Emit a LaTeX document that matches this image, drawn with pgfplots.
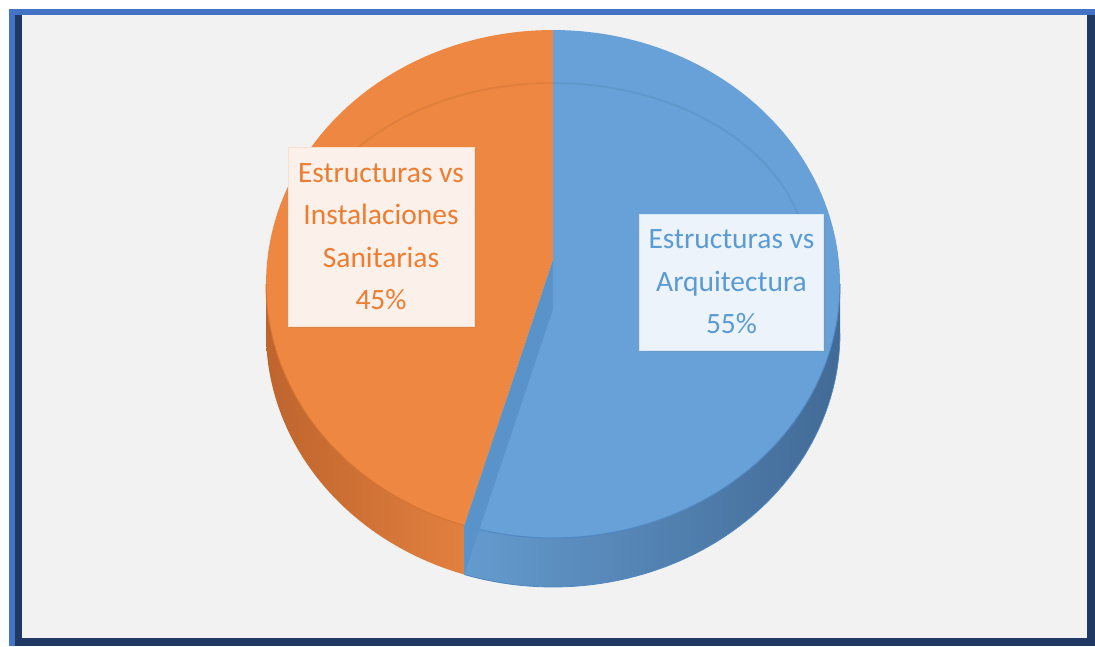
\documentclass[border=0pt]{standalone}
\usepackage{pgfplots}
\pgfplotsset{compat=1.18}
\usepackage{fontspec}
\setmainfont{Carlito}
\usetikzlibrary{shadows}

\definecolor{frameLight}{RGB}{68,114,196}
\definecolor{frameNavy}{RGB}{31,56,100}
\definecolor{bgGray}{RGB}{242,242,242}
\definecolor{pieBlue}{RGB}{103,161,215}
\definecolor{pieOrange}{RGB}{237,135,65}
\definecolor{edgeBlue}{RGB}{80,135,195}
\definecolor{edgeOrange}{RGB}{215,115,50}
\definecolor{wallBlue}{RGB}{90,147,202}
\definecolor{sideBlueL}{RGB}{100,155,206}
\definecolor{sideBlueM}{RGB}{94,149,199}
\definecolor{sideBlueR}{RGB}{66,106,150}
\definecolor{sideOrangeL}{RGB}{190,100,45}
\definecolor{sideOrangeM}{RGB}{220,123,60}
\definecolor{sideOrangeR}{RGB}{226,128,63}
\definecolor{boxOrange}{RGB}{252,240,234}
\definecolor{txtOrange}{RGB}{237,125,49}
\definecolor{boxBlue}{RGB}{237,243,250}
\definecolor{txtBlue}{RGB}{91,155,213}

% data (percent)
\def\valA{55}% Estructuras vs Arquitectura
\def\valB{45}% Estructuras vs Instalaciones Sanitarias
\pgfmathsetmacro{\angA}{3.6*\valA}
\pgfmathsetmacro{\angB}{\angA+3.6*\valB}
% geometry (pt = px)
\def\cx{553}\def\cy{362}\def\rx{287}\def\ry{254}\def\ax{553}\def\ay{386}\def\dep{49}
\pgfmathsetmacro{\rimx}{\cx+\rx*sin(\angA)}
\pgfmathsetmacro{\rimy}{\cy+\ry*cos(\angA)}
\pgfmathsetmacro{\rimyb}{\rimy-\dep}
\pgfmathsetmacro{\ayb}{\ay-\dep}

\begin{document}
\begin{tikzpicture}[
  lbl/.style={font=\fontsize{29.5}{42.5}\selectfont, align=center, inner sep=0pt,
    drop shadow={opacity=0.18, shadow xshift=2pt, shadow yshift=-2pt}},
]
\begin{axis}[
  width=1095pt, height=646pt, scale only axis,
  xmin=0, xmax=1095, ymin=0, ymax=646,
  hide axis, clip=false,
  declare function={
    bang(\t,\a,\b)=(\t<150)*(\a+(\b-\a)*\t/100)+(\t>=150)*(\b-(\b-\a)*(\t-200)/100);
    boff(\t)=(\t>=150)*49;
  },
]
% frame
\fill[white] (axis cs:0,0) rectangle (axis cs:1095,646);
\fill[frameLight] (axis cs:9,0) rectangle (axis cs:1095,637);
\fill[frameNavy] (axis cs:15,0) rectangle (axis cs:1095,631);
\fill[bgGray] (axis cs:22,8) rectangle (axis cs:1087,631);

% side bands
\addplot[draw=none, left color=sideBlueL, middle color=sideBlueM, right color=sideBlueR,
  samples at={0,2,...,100,200,202,...,300}]
  ({\cx+\rx*sin(bang(x,90,\angA))},{\cy+\ry*cos(bang(x,90,\angA))-boff(x)});
\addplot[draw=none, left color=sideOrangeL, middle color=sideOrangeM, right color=sideOrangeR,
  samples at={0,2,...,100,200,202,...,300}]
  ({\cx+\rx*sin(bang(x,\angA,270))},{\cy+\ry*cos(bang(x,\angA,270))-boff(x)});
\addplot[draw=edgeBlue, line width=0.8pt, domain=90:\angA, samples=60]
  ({\cx+\rx*sin(x)},{\cy+\ry*cos(x)-\dep});

% top faces
\addplot[fill=pieBlue, draw=none, domain=0:\angA, samples=120]
  ({\cx+\rx*sin(x)},{\cy+\ry*cos(x)}) -- (axis cs:\ax,\ay) -- cycle;
\addplot[fill=pieOrange, draw=none, domain=\angA:\angB, samples=100]
  ({\cx+\rx*sin(x)},{\cy+\ry*cos(x)}) -- (axis cs:\ax,\ay) -- cycle;

% bevel ring
\addplot[draw=black, opacity=0.05, line width=2pt, domain=-100:100, samples=100]
  ({553+255*sin(x)},{381+182*cos(x)});
% rim edges
\addplot[draw=edgeBlue, line width=1pt, domain=90:\angA, samples=60]
  ({\cx+\rx*sin(x)},{\cy+\ry*cos(x)});
\addplot[draw=edgeOrange, line width=1pt, domain=\angA:270, samples=40]
  ({\cx+\rx*sin(x)},{\cy+\ry*cos(x)});

% cut wall of the blue slice
\fill[wallBlue] (axis cs:\ax,\ay) -- (axis cs:\rimx,\rimy) -- (axis cs:\rimx,\rimyb)
  -- (axis cs:\ax,\ayb) -- cycle;

% labels
\node[lbl, fill=boxOrange, text=txtOrange, draw=txtOrange!25,
  minimum width=186pt, minimum height=179pt] at (axis cs:381,409.5)
  {Estructuras vs\\Instalaciones\\Sanitarias\\\valB\%};
\node[lbl, fill=boxBlue, text=txtBlue, draw=txtBlue!25,
  minimum width=184pt, minimum height=136pt] at (axis cs:731.5,364)
  {Estructuras vs\\Arquitectura\\\valA\%};
\end{axis}
\end{tikzpicture}
\end{document}
